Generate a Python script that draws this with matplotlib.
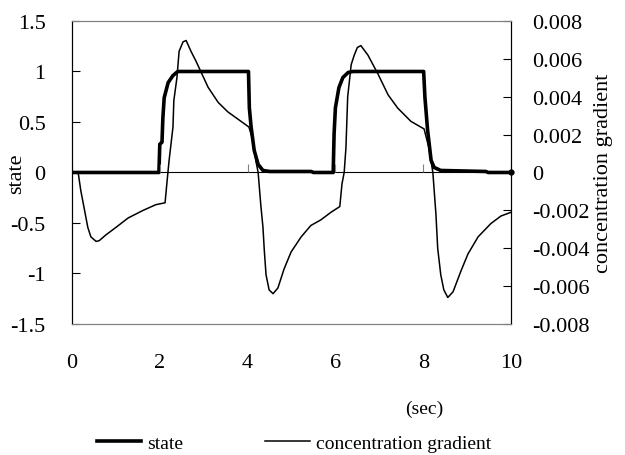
import matplotlib.pyplot as plt

# values
t_state = [0, 1.98, 2.0, 2.05, 2.07, 2.1, 2.19, 2.3, 2.41, 4.02,
           4.04, 4.08, 4.15, 4.24, 4.35, 4.5, 5.45, 5.5, 5.95, 5.97,
           6.0, 6.08, 6.17, 6.29, 6.4, 8.01, 8.04, 8.1, 8.18, 8.25,
           8.4, 9.43, 9.48, 10]
state = [0, 0, 0.28, 0.3, 0.54, 0.74, 0.89, 0.96, 1.0, 1.0,
         0.64, 0.45, 0.22, 0.08, 0.02, 0.01, 0.01, 0, 0, 0.38,
         0.64, 0.84, 0.94, 0.99, 1.0, 1.0, 0.74, 0.42, 0.12, 0.05,
         0.02, 0.01, 0, 0]

t_grad = [0, 0.14, 0.2, 0.27, 0.36, 0.43, 0.55, 0.62, 0.77, 1.0,
          1.28, 1.62, 1.91, 2.12, 2.16, 2.21, 2.30, 2.32, 2.39, 2.44,
          2.53, 2.60, 2.71, 2.82, 2.94, 3.10, 3.33, 3.55, 3.85, 4.03,
          4.12, 4.19, 4.24, 4.30, 4.35, 4.38, 4.42, 4.49, 4.58, 4.69,
          4.83, 4.99, 5.22, 5.44, 5.67, 5.90, 6.10, 6.15, 6.20, 6.24,
          6.28, 6.36, 6.43, 6.50, 6.58, 6.74, 6.97, 7.20, 7.42, 7.72,
          8.02, 8.13, 8.22, 8.29, 8.33, 8.40, 8.47, 8.56, 8.68, 8.86,
          9.02, 9.25, 9.54, 9.77, 10.0]
grad = [0, 0, -0.00095, -0.0018, -0.0029, -0.0034, -0.00364, -0.0036, -0.0033, -0.0029,
        -0.0024, -0.0020, -0.0017, -0.0016, -0.0006, 0.0006, 0.0024, 0.0038, 0.0050, 0.0064,
        0.0069, 0.00697, 0.0064, 0.0059, 0.0053, 0.0045, 0.0037, 0.0032, 0.0027, 0.0024,
        0.0017, 0.0006, 0.0, -0.0017, -0.0029, -0.0041, -0.0054, -0.0062, -0.0064, -0.0061,
        -0.0051, -0.0042, -0.0034, -0.0028, -0.0025, -0.0021, -0.0018, -0.0006, 0.0, 0.0013,
        0.0040, 0.0057, 0.0062, 0.0066, 0.0067, 0.0062, 0.0052, 0.0041, 0.0034, 0.0027,
        0.0023, 0.0013, 0.0, -0.0022, -0.0040, -0.0054, -0.0062, -0.0066, -0.0063, -0.0052,
        -0.0043, -0.0034, -0.0027, -0.0023, -0.0021]

x_ticks = [0, 2, 4, 6, 8, 10]
left_ticks = [-1.5, -1, -0.5, 0, 0.5, 1, 1.5]
right_ticks = [-0.008, -0.006, -0.004, -0.002, 0, 0.002, 0.004, 0.006, 0.008]


def fmt(v):
    return "0" if v == 0 else ("%g" % v)


plt.rcParams["font.family"] = ["Liberation Serif", "DejaVu Serif"]
fig = plt.figure(figsize=(6.25, 4.56), dpi=100)
ax = fig.add_axes([0.1152, 0.2873, 0.7024, 0.6645])
ax2 = ax.twinx()

l1, = ax.plot(t_state, state, color="black", lw=2.6, solid_joinstyle="round")
# small dot at the last point of the state series
ax.plot(t_state[-1:], state[-1:], ls="none", marker="o", markersize=3.5,
        color="black", clip_on=False)
l2, = ax2.plot(t_grad, grad, color="black", lw=1.1)

ax.axhline(0, color="black", lw=0.8, zorder=0)
ax.plot(x_ticks, [0] * len(x_ticks), ls="none", marker=2, markersize=6,
        color="#808080", mew=0.8)

ax.set_xlim(0, 10)
ax.set_ylim(-1.5, 1.5)
ax2.set_ylim(-0.008, 0.008)

ax.set_xticks(x_ticks)
ax.set_xticklabels([fmt(v) for v in x_ticks])
ax.tick_params(axis="x", length=0, pad=21, labelsize=16)
ax.set_yticks(left_ticks)
ax.set_yticklabels([fmt(v) for v in left_ticks])
ax.tick_params(axis="y", direction="in", length=6, width=0.8, pad=19, labelsize=16)
ax2.set_yticks(right_ticks)
ax2.set_yticklabels([fmt(v) for v in right_ticks])
ax2.tick_params(axis="y", direction="in", length=6, width=0.8, pad=15, labelsize=16)

for a in (ax, ax2):
    a.spines["top"].set_color("#808080")
    a.spines["bottom"].set_color("#808080")
    a.spines["left"].set_color("black")
    a.spines["right"].set_color("black")

ax.set_ylabel("state", fontsize=16)
ax.yaxis.set_label_coords(-0.105, 0.5)
ax2.set_ylabel("concentration gradient", fontsize=16)
ax2.yaxis.set_label_coords(1.189, 0.5)

fig.text(0.678, 0.103, "(sec)", fontsize=14, ha="center", va="center")
fig.legend([l1, l2], ["state", "concentration gradient"], loc="center",
           bbox_to_anchor=(0.47, 0.026), ncol=2, frameon=False, fontsize=14,
           handlelength=2.3, handletextpad=0.3, columnspacing=4.2,
           borderpad=0, borderaxespad=0)

fig.savefig("out.png", dpi=100)
